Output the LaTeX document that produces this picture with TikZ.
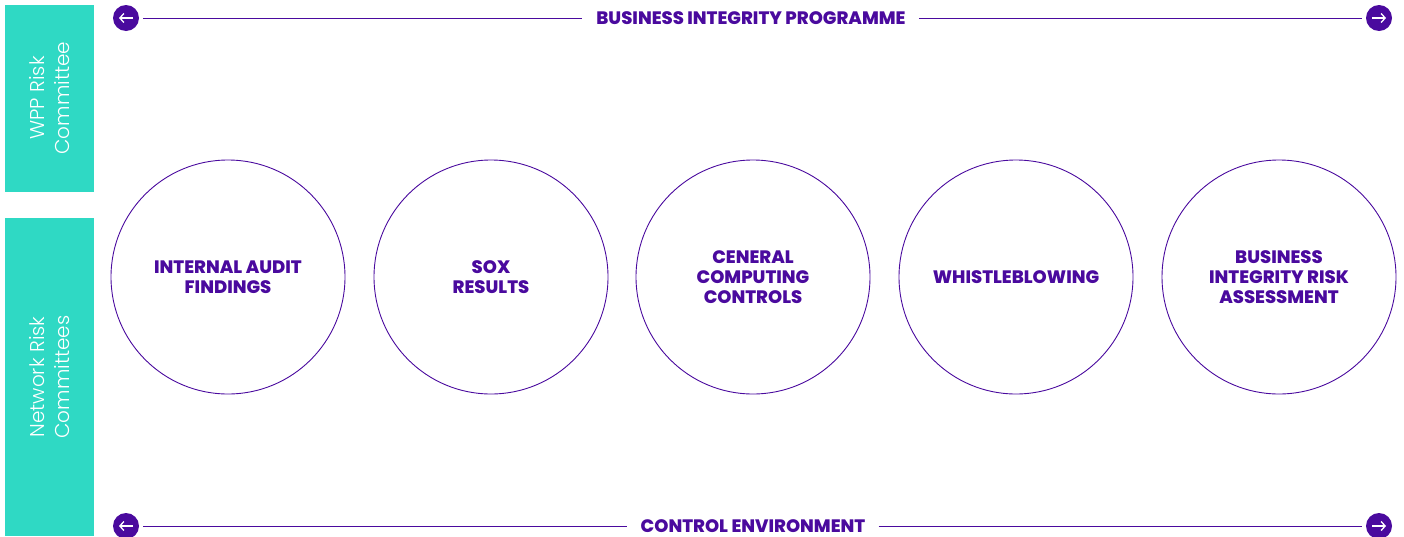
\documentclass[tikz,border=0pt]{standalone}
\usepackage{fontspec}
\setmainfont{Poppins}
\newfontfamily\boldf{Poppins}[UprightFont=* ExtraBold]
\newfontfamily\lightf{Poppins}[UprightFont=* Light]
\usetikzlibrary{arrows.meta}
\definecolor{wpurple}{HTML}{4A0A9E}
\definecolor{wteal}{HTML}{2FD9C4}
\tikzset{
  panel/.style={fill=wteal, draw=none},
  paneltext/.style={text=white, font=\lightf\fontsize{20}{25}\selectfont, align=center, rotate=90},
  topic/.style={circle, draw=wpurple, line width=0.9pt, minimum size=234pt, inner sep=0pt,
    text=wpurple, font=\boldf\fontsize{18}{20}\selectfont, align=center},
  bandlabel/.style={text=wpurple, font=\boldf\fontsize{18}{18}\selectfont, inner sep=0pt,
    text height=12.5pt, text depth=0pt, anchor=base},
  bandline/.style={draw=wpurple, line width=0.9pt},
  iconbg/.style={circle, fill=wpurple, minimum size=26pt, inner sep=0pt},
  iconarrow/.style={draw=white, line width=1.3pt, -{Straight Barb[length=4pt,width=9pt,line width=1.3pt]}}
}
\begin{document}
\begin{tikzpicture}[x=1pt,y=-1pt]
\useasboundingbox (0,0) rectangle (1404,536);
% panels
\fill[panel] (5,5) rectangle (94,192);
\fill[panel] (5,218) rectangle (94,536);
\node[paneltext] (wpp) at (49.5,98) {WPP Risk\\Committee};
\node[paneltext] (net) at (49.5,377) {Network Risk\\Committees};
% circles
\node[topic] (c1) at (228,277) {INTERNAL AUDIT\\FINDINGS};
\node[topic] (c2) at (491,277) {SOX\\RESULTS};
\node[topic] (c3) at (753,277) {CENERAL\\COMPUTING\\CONTROLS};
\node[topic] (c4) at (1016,277) {WHISTLEBLOWING};
\node[topic] (c5) at (1279,277) {BUSINESS\\INTEGRITY RISK\\ASSESSMENT};
% top band
\node[iconbg] (tl) at (126,18) {};
\node[iconbg] (tr) at (1379,18) {};
\node[bandlabel] (top) at (751,24.5) {BUSINESS INTEGRITY PROGRAMME};
\draw[bandline] ([xshift=4pt]tl.east) -- ([xshift=-14pt]tl.east -| top.west);
\draw[bandline] ([xshift=13pt]tr.west -| top.east) -- ([xshift=-4pt]tr.west);
\draw[iconarrow] ([xshift=7pt]tl.center) -- ([xshift=-7pt]tl.center);
\draw[iconarrow] ([xshift=-7pt]tr.center) -- ([xshift=7pt]tr.center);
% bottom band
\node[iconbg] (bl) at (126,526) {};
\node[iconbg] (br) at (1379,526) {};
\node[bandlabel] (bot) at (753,532.5) {CONTROL ENVIRONMENT};
\draw[bandline] ([xshift=4pt]bl.east) -- ([xshift=-14pt]bl.east -| bot.west);
\draw[bandline] ([xshift=13pt]br.west -| bot.east) -- ([xshift=-4pt]br.west);
\draw[iconarrow] ([xshift=7pt]bl.center) -- ([xshift=-7pt]bl.center);
\draw[iconarrow] ([xshift=-7pt]br.center) -- ([xshift=7pt]br.center);
\end{tikzpicture}
\end{document}
